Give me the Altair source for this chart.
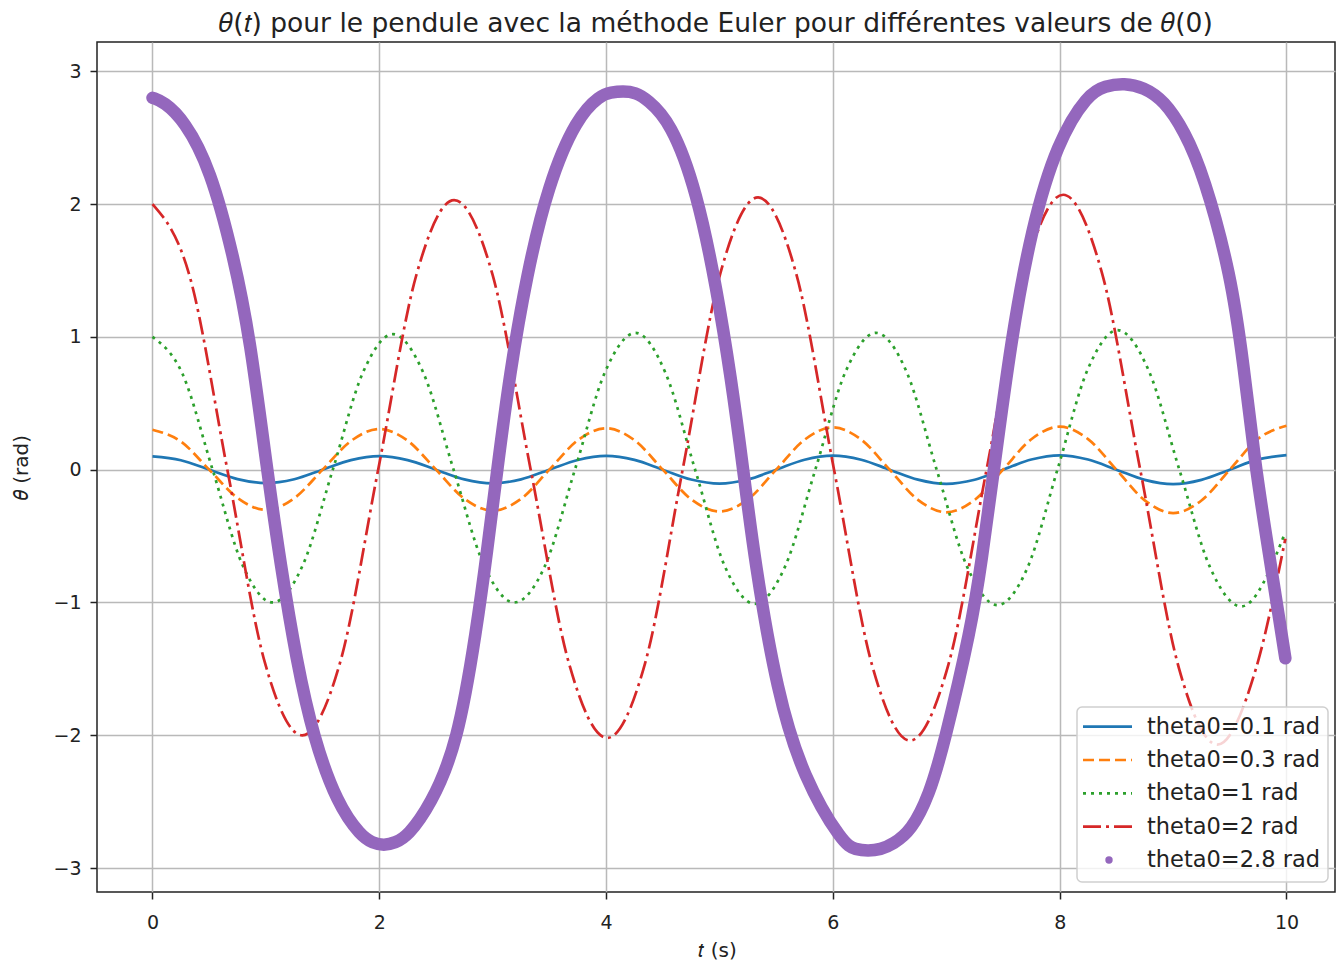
import altair as alt
import pandas as pd

# ---------------- data ----------------
series_labels = ["theta0=0.1 rad", "theta0=0.3 rad", "theta0=1 rad", "theta0=2 rad", "theta0=2.8 rad"]
series_colors = ["#1f77b4", "#ff7f0e", "#2ca02c", "#d62728", "#9467bd"]

t_small = [0.0, 0.25, 0.5, 0.75, 1.0, 1.25, 1.5, 1.75, 2.0, 2.25, 2.5, 2.75, 3.0, 3.25, 3.5, 3.75,
           4.0, 4.25, 4.5, 4.75, 5.0, 5.25, 5.5, 5.75, 6.0, 6.25, 6.5, 6.75, 7.0, 7.25, 7.5, 7.75,
           8.0, 8.25, 8.5, 8.75, 9.0, 9.25, 9.5, 9.75, 10.0]
theta_01 = [0.100, 0.071, 0.000, -0.071, -0.101, -0.072, 0.000, 0.072,
            0.102, 0.072, 0.000, -0.073, -0.103, -0.073, 0.000, 0.073,
            0.104, 0.074, 0.000, -0.074, -0.105, -0.074, 0.000, 0.075,
            0.106, 0.075, 0.000, -0.075, -0.107, -0.076, 0.000, 0.076,
            0.108, 0.076, 0.000, -0.077, -0.109, -0.077, 0.000, 0.077, 0.110]
theta_03 = [0.300, 0.212, 0.000, -0.213, -0.303, -0.215, 0.000, 0.216,
            0.306, 0.218, 0.000, -0.219, -0.309, -0.220, 0.000, 0.221,
            0.312, 0.222, 0.000, -0.223, -0.315, -0.224, 0.000, 0.225,
            0.318, 0.226, 0.000, -0.227, -0.321, -0.228, 0.000, 0.229,
            0.324, 0.230, 0.000, -0.231, -0.327, -0.232, 0.000, 0.233, 0.330]

t_1 = [0.0, 0.265, 0.53, 0.795, 1.06, 1.325, 1.59, 1.855, 2.12, 2.388, 2.655, 2.923, 3.19,
       3.458, 3.725, 3.993, 4.26, 4.523, 4.785, 5.048, 5.31, 5.578, 5.845, 6.113, 6.38,
       6.648, 6.915, 7.183, 7.45, 7.715, 7.98, 8.245, 8.51, 8.783, 9.055, 9.328, 9.6, 9.99]
theta_1 = [1.00, 0.72, 0.0, -0.72, -1.00, -0.72, 0.0, 0.73, 1.02, 0.73, 0.0, -0.72, -1.00,
           -0.73, 0.0, 0.74, 1.03, 0.73, 0.0, -0.73, -1.01, -0.73, 0.0, 0.74, 1.03,
           0.74, 0.0, -0.73, -1.02, -0.74, 0.0, 0.75, 1.05, 0.75, 0.0, -0.74, -1.03, -0.47]

t_2 = [0.0, 0.33, 0.66, 0.99, 1.32, 1.655, 1.99, 2.325, 2.66, 2.998, 3.335, 3.673, 4.01,
       4.343, 4.675, 5.008, 5.34, 5.675, 6.01, 6.345, 6.68, 7.018, 7.355, 7.693, 8.03,
       8.37, 8.71, 9.05, 9.39, 9.73, 9.99]
theta_2 = [2.00, 1.45, 0.0, -1.45, -2.00, -1.45, 0.0, 1.46, 2.03, 1.47, 0.0, -1.46, -2.02,
           -1.46, 0.0, 1.48, 2.05, 1.48, 0.0, -1.47, -2.04, -1.47, 0.0, 1.49, 2.07,
           1.49, 0.0, -1.49, -2.07, -1.50, -0.52]

t_28 = [0.00, 0.10, 0.28, 0.51, 0.72, 0.86, 1.01, 1.13, 1.27, 1.42, 1.63, 1.84, 1.94, 2.04,
        2.14, 2.25, 2.45, 2.69, 2.86, 2.95, 3.04, 3.15, 3.30, 3.49, 3.74, 3.95, 4.04, 4.15,
        4.26, 4.36, 4.57, 4.80, 4.98, 5.10, 5.21, 5.31, 5.51, 5.74, 6.09, 6.20, 6.31,
        6.42, 6.53, 6.69, 6.85, 6.98, 7.22, 7.31, 7.42, 7.57, 7.75, 7.98, 8.25, 8.40, 8.57,
        8.74, 8.92, 9.10, 9.27, 9.51, 9.62, 9.73, 9.81, 9.99]
theta_28 = [2.80, 2.77, 2.63, 2.27, 1.59, 0.99, 0.00, -0.72, -1.44, -2.02, -2.52, -2.76, -2.81, -2.83,
            -2.81, -2.76, -2.53, -2.07, -1.19, -0.62, 0.00, 0.72, 1.47, 2.15, 2.65, 2.82, 2.84, 2.85,
            2.84, 2.79, 2.62, 2.10, 1.34, 0.70, 0.00, -0.69, -1.69, -2.32, -2.82, -2.86, -2.87,
            -2.86, -2.82, -2.72, -2.45, -2.07, -1.19, -0.70, 0.00, 0.97, 1.82, 2.47, 2.83, 2.89, 2.91,
            2.88, 2.78, 2.55, 2.22, 1.47, 0.80, 0.00, -0.44, -1.42]

x_ticks = [0, 2, 4, 6, 8, 10]
y_ticks = [-3, -2, -1, 0, 1, 2, 3]

# ---------------- styling ----------------
FONT = "DejaVu Sans"
TXT = "#222222"
W, H = 1238, 850

x_enc = alt.X(
    "t:Q",
    scale=alt.Scale(domain=[-0.4894, 10.4277], nice=False, zero=False),
    axis=alt.Axis(
        values=x_ticks, format="d", grid=True, gridColor="#b9b9b9", gridWidth=1.5,
        domain=False, tickSize=7, tickWidth=1.5, tickColor=TXT,
        labelFont=FONT, labelFontSize=19, labelColor=TXT, labelPadding=14, labelFlush=False,
        title="𝑡 (s)", titleFont=FONT, titleFontSize=20, titleFontWeight="normal",
        titleColor=TXT, titleX=620, titleY=64, titleBaseline="alphabetic", titleAlign="center",
    ),
)
y_enc = alt.Y(
    "theta:Q",
    scale=alt.Scale(domain=[-3.18, 3.22], nice=False, zero=False),
    axis=alt.Axis(
        values=y_ticks, format="d", grid=True, gridColor="#b9b9b9", gridWidth=1.5,
        domain=False, tickSize=7, tickWidth=1.5, tickColor=TXT,
        labelFont=FONT, labelFontSize=19, labelColor=TXT, labelPadding=9, labelFlush=False,
        title="𝜃 (rad)", titleFont=FONT, titleFontSize=20, titleFontWeight="normal",
        titleColor=TXT, titleX=-76, titleY=425, titleAngle=270,
        titleBaseline="middle", titleAlign="center",
    ),
)

series = [
    (t_small, theta_01, dict(strokeWidth=2.7, interpolate="monotone")),
    (t_small, theta_03, dict(strokeWidth=2.7, strokeDash=[11, 5], interpolate="monotone")),
    (t_1, theta_1, dict(strokeWidth=2.7, strokeDash=[3, 5], interpolate="monotone")),
    (t_2, theta_2, dict(strokeWidth=2.7, strokeDash=[18, 5, 3, 5], interpolate="monotone")),
    (t_28, theta_28, dict(strokeWidth=12.5, strokeCap="round", strokeJoin="round", interpolate="basis")),
]

layers = []
for (ts, ths, style), color in zip(series, series_colors):
    df = pd.DataFrame({"t": ts, "theta": ths})
    layers.append(
        alt.Chart(df).mark_line(color=color, **style).encode(x=x_enc, y=y_enc)
    )

# ---------------- legend (drawn inside the plot, lower right) ----------------
one = pd.DataFrame({"k": [0]})
row_y = [684.7, 718.0, 751.3, 784.7, 818.0]
layers.append(
    alt.Chart(one).mark_rect(fill="white", fillOpacity=0.8, stroke="#cfcfcf", strokeWidth=1.5,
                             cornerRadius=5).encode(
        x=alt.value(980), x2=alt.value(1231), y=alt.value(665), y2=alt.value(840))
)
for i, (label, color) in enumerate(zip(series_labels, series_colors)):
    style = series[i][2]
    if i < 4:
        extra = {k: v for k, v in style.items() if k == "strokeDash"}
        layers.append(
            alt.Chart(one).mark_rule(color=color, strokeWidth=2.7, **extra).encode(
                x=alt.value(986), x2=alt.value(1035), y=alt.value(row_y[i]))
        )
    else:
        layers.append(
            alt.Chart(one).mark_circle(color=color, size=55, opacity=1).encode(
                x=alt.value(1012), y=alt.value(row_y[i]))
        )
    layers.append(
        alt.Chart(pd.DataFrame({"label": [label]})).mark_text(
            align="left", baseline="middle", font=FONT, fontSize=22.5, color=TXT
        ).encode(text="label:N", x=alt.value(1050), y=alt.value(row_y[i]))
    )

chart = alt.layer(*layers).properties(
    width=W,
    height=H,
    autosize=alt.AutoSizeParams(type="none"),
    padding={"left": 89, "top": 34, "right": 1, "bottom": 68},
    title=alt.TitleParams(
        text="𝜃(𝑡) pour le pendule avec la méthode Euler pour différentes valeurs de 𝜃(0)",
        font=FONT, fontSize=26.5, fontWeight="normal", color=TXT,
        anchor="middle", frame="group", offset=-16, baseline="alphabetic",
    ),
).configure_view(stroke=TXT, strokeWidth=1.5)

chart.save("out.html", embed_options={"renderer": "svg", "actions": False})
